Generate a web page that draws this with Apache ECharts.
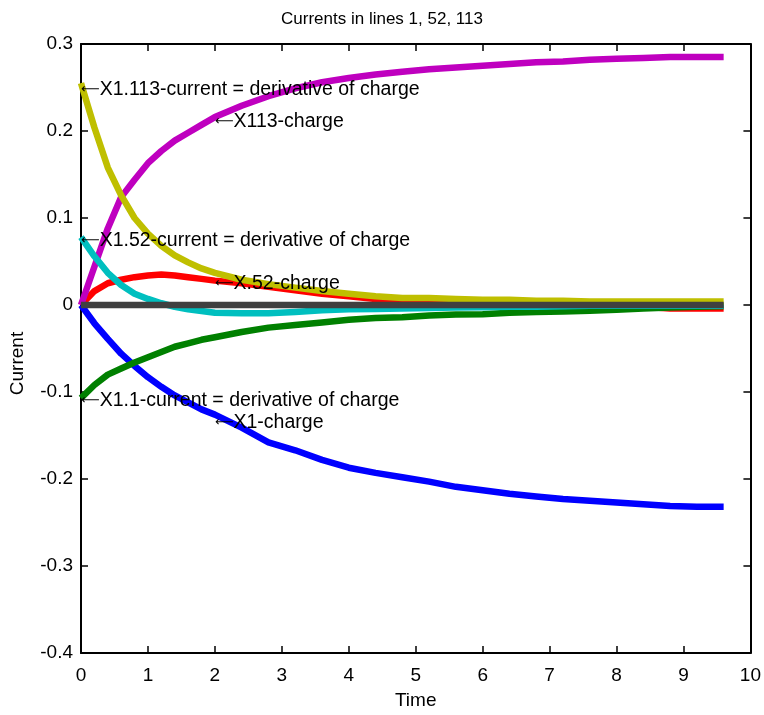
<!DOCTYPE html>
<html>
<head>
<meta charset="utf-8">
<script src="https://cdn.jsdelivr.net/npm/echarts@6/dist/echarts.min.js"></script>
<style>
html,body{margin:0;padding:0;background:#fff;}
#chart{width:764px;height:715px;}
</style>
</head>
<body>
<div id="chart"></div>
<script>
// ---- data ----
var chartTitle = 'Currents in lines 1, 52, 113';
var xName = 'Time';
var yName = 'Current';
var xTicks = [0,1,2,3,4,5,6,7,8,9,10];
var yTicks = [-0.4,-0.3,-0.2,-0.1,0,0.1,0.2,0.3];
var time = [0,0.2,0.4,0.6,0.8,1.0,1.2,1.4,1.6,1.8,2.0,2.4,2.8,3.2,3.6,4.0,4.4,4.8,5.2,5.6,6.0,6.4,6.8,7.2,7.6,8.0,8.4,8.8,9.2,9.6];
var charge1 = [0,-0.021,-0.039,-0.056,-0.070,-0.083,-0.094,-0.104,-0.112,-0.120,-0.126,-0.141,-0.158,-0.167,-0.178,-0.187,-0.193,-0.198,-0.203,-0.209,-0.213,-0.217,-0.220,-0.223,-0.225,-0.227,-0.229,-0.231,-0.232,-0.232];
var charge52 = [0,0.016,0.025,0.029,0.032,0.034,0.035,0.034,0.032,0.030,0.028,0.025,0.021,0.017,0.013,0.010,0.007,0.005,0.003,0.002,0.001,0.001,0.0005,0,0,-0.001,-0.002,-0.004,-0.004,-0.004];
var charge113 = [0,0.044,0.088,0.124,0.144,0.163,0.177,0.189,0.198,0.207,0.216,0.229,0.240,0.249,0.256,0.261,0.265,0.268,0.271,0.273,0.275,0.277,0.279,0.280,0.282,0.283,0.284,0.285,0.285,0.285];
var current1 = [-0.107,-0.092,-0.080,-0.073,-0.066,-0.060,-0.054,-0.048,-0.044,-0.040,-0.037,-0.031,-0.026,-0.023,-0.020,-0.017,-0.015,-0.014,-0.012,-0.011,-0.0105,-0.009,-0.008,-0.0075,-0.0065,-0.0055,-0.004,-0.003,-0.002,-0.0015];
var current52 = [0.078,0.056,0.037,0.023,0.013,0.007,0.002,-0.002,-0.005,-0.007,-0.009,-0.0095,-0.0095,-0.008,-0.006,-0.005,-0.0045,-0.004,-0.0035,-0.003,-0.0025,-0.002,-0.002,-0.0015,-0.001,-0.001,-0.001,-0.001,-0.001,-0.001];
var current113 = [0.255,0.204,0.158,0.126,0.100,0.082,0.068,0.057,0.049,0.042,0.037,0.029,0.024,0.020,0.016,0.013,0.010,0.008,0.008,0.007,0.006,0.006,0.005,0.005,0.004,0.004,0.004,0.004,0.004,0.004];
var zeroLine = [0,0,0,0,0,0,0,0,0,0,0,0,0,0,0,0,0,0,0,0,0,0,0,0,0,0,0,0,0,0];
// annotations: [time, value, text]
var annTime = [0, 2.0, 0, 2.0, 0, 2.0];
var annValue = [0.248, 0.211, 0.0735, 0.025, -0.11, -0.1355];
var annText = ['X1.113-current = derivative of charge','X113-charge','X1.52-current = derivative of charge','X.52-charge','X1.1-current = derivative of charge','X1-charge'];

// ---- chart ----
var FONT = "'Liberation Sans',Arial,sans-serif";
function pairs(ys){ return time.map(function(t,i){ return [t, ys[i]]; }); }
function lineSeries(name, ys, color, z){
  return {name:name, type:'line', data:pairs(ys), showSymbol:false, symbol:'none',
    lineStyle:{color:color, width:6.5, cap:'butt', join:'round'}, z:z, silent:true, animation:false};
}
var chart = echarts.init(document.getElementById('chart'), null, {renderer:'canvas'});
var axisCommon = {
  axisLine:{show:true, onZero:false, lineStyle:{color:'#000', width:2}},
  axisTick:{show:true, inside:true, length:7, lineStyle:{color:'#000', width:1.5}},
  splitLine:{show:false}
};
var option = {
  backgroundColor:'#fff',
  animation:false,
  title:{text:chartTitle, left:'center', top:6, textStyle:{fontFamily:FONT, fontSize:17, fontWeight:'normal', color:'#000'}},
  grid:{left:80, right:11, top:44, bottom:60, containLabel:false},
  xAxis:[
    Object.assign({type:'value', position:'bottom', min:xTicks[0], max:xTicks[xTicks.length-1], interval:1,
      name:xName, nameLocation:'middle', nameGap:38, nameTextStyle:{fontFamily:FONT, fontSize:19, color:'#000'},
      axisLabel:{fontFamily:FONT, fontSize:19, color:'#000', margin:13}}, axisCommon),
    Object.assign({type:'value', position:'top', min:xTicks[0], max:xTicks[xTicks.length-1], interval:1,
      axisLabel:{show:false}}, axisCommon)
  ],
  yAxis:[
    Object.assign({type:'value', position:'left', min:yTicks[0], max:yTicks[yTicks.length-1], interval:0.1,
      name:yName, nameLocation:'middle', nameGap:54, nameRotate:90,
      nameTextStyle:{fontFamily:FONT, fontSize:19, color:'#000', padding:[0,30,0,0]},
      axisLabel:{fontFamily:FONT, fontSize:19, color:'#000', margin:8, formatter:function(v){ var s=(+v.toFixed(1)); return String(s); }}}, axisCommon),
    Object.assign({type:'value', position:'right', min:yTicks[0], max:yTicks[yTicks.length-1], interval:0.1,
      axisLabel:{show:false}}, axisCommon)
  ],
  series:[
    lineSeries('X1-charge', charge1, '#0000FF', 2),
    lineSeries('X.52-charge', charge52, '#FF0000', 3),
    lineSeries('X113-charge', charge113, '#BF00BF', 4),
    lineSeries('X1.1-current', current1, '#008000', 5),
    lineSeries('X1.52-current', current52, '#00BFBF', 6),
    lineSeries('X1.113-current', current113, '#BFBF00', 7),
    lineSeries('zero', zeroLine, '#404040', 8),
    {
      type:'scatter', z:20, silent:true, symbolSize:0, itemStyle:{color:'#000', opacity:1},
      data: annTime.map(function(t,i){ return {value:[t, annValue[i]], name:annText[i]}; }),
      labelLayout:{hideOverlap:false},
      label:{show:true, position:'right', distance:0, color:'#000', opacity:1,
        formatter:function(p){ return '{a|\u27F5}{b|' + p.name + '}'; },
        rich:{
          a:{fontFamily:'DejaVu Sans', fontSize:13, color:'#000'},
          b:{fontFamily:FONT, fontSize:19.5, color:'#000'}
        }
      }
    }
  ]
};
chart.setOption(option);
</script>
</body>
</html>
